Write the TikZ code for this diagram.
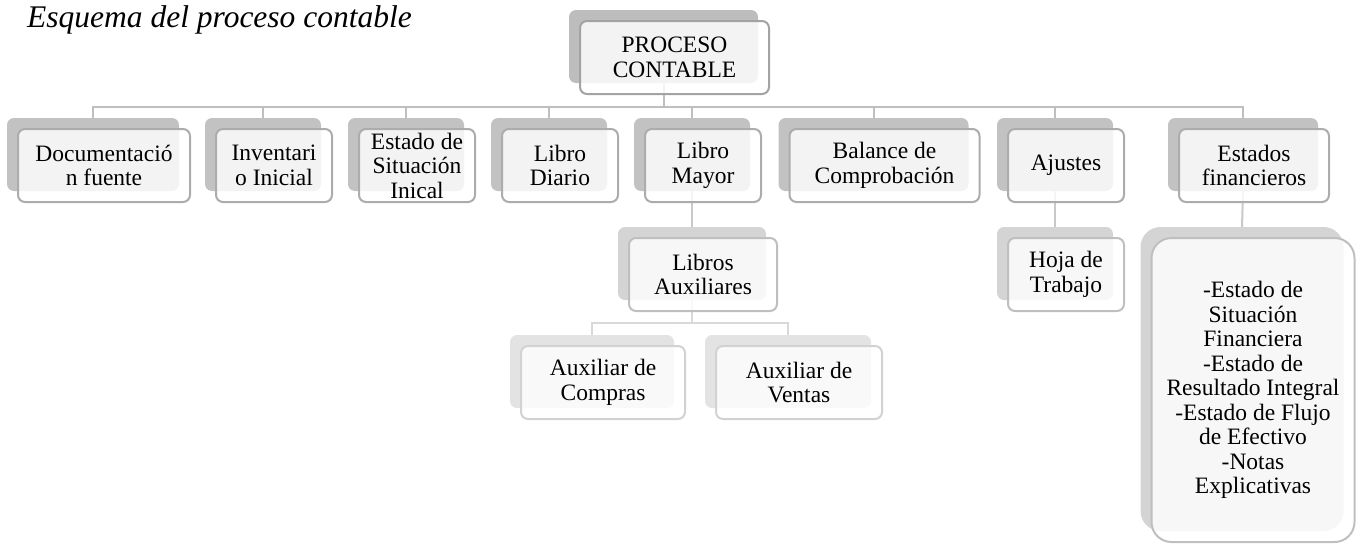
\documentclass[tikz,border=0pt]{standalone}
\usepackage{fontspec}
\setmainfont{Liberation Serif}
\usetikzlibrary{backgrounds}
\tikzset{
  bb/.style={fill=#1, draw=none, inner sep=0pt},
  fb/.style={fill=white, fill opacity=0.82, text opacity=1, draw=#1, line width=2pt,
    align=center, inner sep=0pt, text=black, font=\fontsize{23.5}{24.5}\selectfont},
  conn/.style={draw=#1, line width=2pt},
}
% name, cx, top, w, h, backcolor, bordercolor, radius, text
\newcommand\pairbox[9]{%
  \begin{scope}[on background layer]
    \node[bb=#6, rounded corners=#8pt, minimum width=#4pt, minimum height=#5pt] (#1-b) at (#2, #3+#5/2) {};
  \end{scope}
  \node[fb=#7, rounded corners=#8pt, minimum width=#4pt, minimum height=#5pt] (#1) at (#2+11, #3+#5/2+11) {#9};
}
\begin{document}
\begin{tikzpicture}[x=1pt,y=-1pt]
\useasboundingbox (0,0) rectangle (1365,544);
\node[anchor=base west, inner sep=0pt, font=\fontsize{31.5}{36}\selectfont\itshape] (title) at (27,27) {Esquema del proceso contable};

\pairbox{root}{663.5}{10}{189}{73}{gray!52}{gray!72}{7}{PROCESO\\CONTABLE}

\pairbox{doc}{93}{118}{172}{73}{gray!48}{gray!65}{7}{Documentació\\n fuente}
\pairbox{inv}{263}{118}{116}{73}{gray!48}{gray!65}{7}{Inventari\\o Inicial}
\pairbox{esi}{406}{118}{116}{73}{gray!48}{gray!65}{7}{Estado de\\Situación\\Inical}
\pairbox{ldi}{549}{118}{116}{73}{gray!48}{gray!65}{7}{Libro\\Diario}
\pairbox{lma}{692}{118}{116}{73}{gray!48}{gray!65}{7}{Libro\\Mayor}
\pairbox{bal}{873.5}{118}{190}{73}{gray!48}{gray!65}{7}{Balance de\\Comprobación}
\pairbox{aju}{1055}{118}{116}{73}{gray!48}{gray!65}{7}{Ajustes}
\pairbox{est}{1243}{118}{150}{73}{gray!48}{gray!65}{7}{Estados\\financieros}

\pairbox{lau}{692}{227}{148}{73}{gray!34}{gray!50}{7}{Libros\\Auxiliares}
\pairbox{hoj}{1055}{227}{116}{73}{gray!34}{gray!50}{7}{Hoja de\\Trabajo}
\pairbox{big}{1242}{227}{203}{304}{gray!34}{gray!50}{20}{-Estado de\\Situación\\Financiera\\-Estado de\\Resultado Integral\\-Estado de Flujo\\de Efectivo\\-Notas\\Explicativas}

\pairbox{com}{592}{335}{164}{73}{gray!22}{gray!35}{7}{Auxiliar de\\Compras}
\pairbox{ven}{788}{335}{166}{73}{gray!22}{gray!35}{7}{Auxiliar de\\Ventas}

\begin{scope}[on background layer]
  \coordinate (bus1) at (0,107);
  \coordinate (bus2) at (0,323);
  \draw[conn=gray!50] (root-b.south) -- (root-b.south |- bus1);
  \draw[conn=gray!50, line cap=rect] (doc-b.north |- bus1) -- (est-b.north |- bus1);
  \foreach \n in {doc,inv,esi,ldi,lma,bal,aju,est}{
    \draw[conn=gray!50] (\n-b.north |- bus1) -- (\n-b.north);
  }
  \draw[conn=gray!42] (lma-b.south) -- (lau-b.north);
  \draw[conn=gray!42] (aju-b.south) -- (hoj-b.north);
  \draw[conn=gray!42] (est-b.south) -- (big-b.north);
  \draw[conn=gray!30] (lau-b.south) -- (lau-b.south |- bus2);
  \draw[conn=gray!30, line cap=rect] (com-b.north |- bus2) -- (ven-b.north |- bus2);
  \draw[conn=gray!30] (com-b.north |- bus2) -- (com-b.north);
  \draw[conn=gray!30] (ven-b.north |- bus2) -- (ven-b.north);
\end{scope}
\end{tikzpicture}
\end{document}
